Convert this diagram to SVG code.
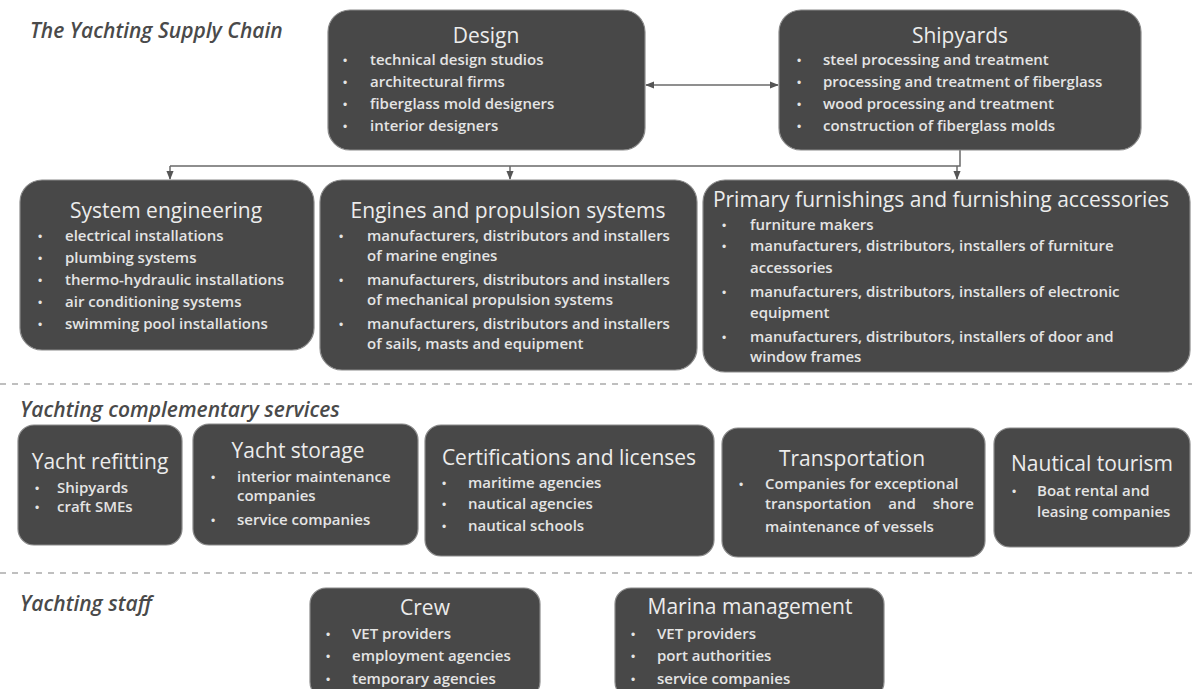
<svg xmlns="http://www.w3.org/2000/svg" width="1192" height="689" viewBox="0 0 1192 689">
<defs>
<style>
.box{fill:#484848;stroke:#8a8a8a;stroke-width:1.2}
.t{font-family:"Open Sans","Liberation Sans",sans-serif;fill:#ececec;text-anchor:middle;font-size:21px}
.i{font-family:"Open Sans","Liberation Sans",sans-serif;fill:#e4e4e4;font-size:15px;font-weight:600}
.b{font-family:"Liberation Sans",sans-serif;fill:#e4e4e4;font-size:12px}
.sec{font-family:"Open Sans","Liberation Sans",sans-serif;font-style:italic;font-weight:600;fill:#4a4a4a;font-size:21px}
.con{fill:none;stroke:#6a6a6a;stroke-width:1.5}
.dash{stroke:#aaaaaa;stroke-width:1.5;stroke-dasharray:6 6}
</style>
<marker id="ah" viewBox="0 0 10 10" refX="9" refY="5" markerWidth="6" markerHeight="6" orient="auto-start-reverse"><path d="M0,1 L10,5 L0,9 z" fill="#555"/></marker>
</defs>
<rect width="1192" height="689" fill="#ffffff"/>

<text class="sec" x="30" y="38">The Yachting Supply Chain</text>
<text class="sec" x="20" y="417">Yachting complementary services</text>
<text class="sec" x="20" y="611">Yachting staff</text>

<line class="dash" x1="0" y1="384" x2="1192" y2="384"/>
<line class="dash" x1="0" y1="573" x2="1192" y2="573"/>

<g id="connectors">
<line class="con" x1="646" y1="85" x2="778" y2="85" marker-start="url(#ah)" marker-end="url(#ah)"/>
<path class="con" d="M960,150 V166 H170"/>
<line class="con" x1="170" y1="166" x2="170" y2="179" marker-end="url(#ah)"/>
<line class="con" x1="510" y1="166" x2="510" y2="179" marker-end="url(#ah)"/>
<line class="con" x1="957" y1="166" x2="957" y2="179" marker-end="url(#ah)"/>
</g>

<g id="design">
<rect class="box" x="328" y="10" width="317" height="140" rx="22"/>
<text class="t" x="486" y="43">Design</text>
<text class="b" x="343" y="65">•</text><text class="i" x="370" y="65">technical design studios</text>
<text class="b" x="343" y="87">•</text><text class="i" x="370" y="87">architectural firms</text>
<text class="b" x="343" y="109">•</text><text class="i" x="370" y="109">fiberglass mold designers</text>
<text class="b" x="343" y="131">•</text><text class="i" x="370" y="131">interior designers</text>
</g>

<g id="shipyards">
<rect class="box" x="779" y="10" width="362" height="140" rx="22"/>
<text class="t" x="960" y="43">Shipyards</text>
<text class="b" x="797" y="65">•</text><text class="i" x="823" y="65">steel processing and treatment</text>
<text class="b" x="797" y="87">•</text><text class="i" x="823" y="87">processing and treatment of fiberglass</text>
<text class="b" x="797" y="109">•</text><text class="i" x="823" y="109">wood processing and treatment</text>
<text class="b" x="797" y="131">•</text><text class="i" x="823" y="131">construction of fiberglass molds</text>
</g>

<g id="system-engineering">
<rect class="box" x="20" y="180" width="294" height="170" rx="22"/>
<text class="t" x="166" y="218">System engineering</text>
<text class="b" x="38" y="241">•</text><text class="i" x="65" y="241">electrical installations</text>
<text class="b" x="38" y="263">•</text><text class="i" x="65" y="263">plumbing systems</text>
<text class="b" x="38" y="285">•</text><text class="i" x="65" y="285">thermo-hydraulic installations</text>
<text class="b" x="38" y="307">•</text><text class="i" x="65" y="307">air conditioning systems</text>
<text class="b" x="38" y="329">•</text><text class="i" x="65" y="329">swimming pool installations</text>
</g>

<g id="engines">
<rect class="box" x="320" y="180" width="377" height="190" rx="22"/>
<text class="t" x="508" y="218">Engines and propulsion systems</text>
<text class="b" x="339" y="241">•</text><text class="i" x="367" y="241">manufacturers, distributors and installers</text>
<text class="i" x="367" y="261">of marine engines</text>
<text class="b" x="339" y="285">•</text><text class="i" x="367" y="285">manufacturers, distributors and installers</text>
<text class="i" x="367" y="305">of mechanical propulsion systems</text>
<text class="b" x="339" y="329">•</text><text class="i" x="367" y="329">manufacturers, distributors and installers</text>
<text class="i" x="367" y="349">of sails, masts and equipment</text>
</g>

<g id="furnishings">
<rect class="box" x="703" y="180" width="487" height="192" rx="22"/>
<text class="t" x="941" y="207">Primary furnishings and furnishing accessories</text>
<text class="b" x="722" y="230">•</text><text class="i" x="750" y="230">furniture makers</text>
<text class="b" x="722" y="251">•</text><text class="i" x="750" y="251">manufacturers, distributors, installers of furniture</text>
<text class="i" x="750" y="273">accessories</text>
<text class="b" x="722" y="297">•</text><text class="i" x="750" y="297">manufacturers, distributors, installers of electronic</text>
<text class="i" x="750" y="318">equipment</text>
<text class="b" x="722" y="342">•</text><text class="i" x="750" y="342">manufacturers, distributors, installers of door and</text>
<text class="i" x="750" y="362">window frames</text>
</g>

<g id="yacht-refitting">
<rect class="box" x="18" y="425" width="164" height="120" rx="16"/>
<text class="t" x="100" y="469">Yacht refitting</text>
<text class="b" x="35" y="493">•</text><text class="i" x="57" y="493">Shipyards</text>
<text class="b" x="35" y="512">•</text><text class="i" x="57" y="512">craft SMEs</text>
</g>

<g id="yacht-storage">
<rect class="box" x="193" y="424" width="225" height="121" rx="16"/>
<text class="t" x="298" y="458">Yacht storage</text>
<text class="b" x="211" y="482">•</text><text class="i" x="237" y="482">interior maintenance</text>
<text class="i" x="237" y="501">companies</text>
<text class="b" x="211" y="525">•</text><text class="i" x="237" y="525">service companies</text>
</g>

<g id="certifications">
<rect class="box" x="425" y="425" width="289" height="131" rx="16"/>
<text class="t" x="569" y="465">Certifications and licenses</text>
<text class="b" x="442" y="488">•</text><text class="i" x="468" y="488">maritime agencies</text>
<text class="b" x="442" y="509">•</text><text class="i" x="468" y="509">nautical agencies</text>
<text class="b" x="442" y="531">•</text><text class="i" x="468" y="531">nautical schools</text>
</g>

<g id="transportation">
<rect class="box" x="722" y="428" width="263" height="129" rx="16"/>
<text class="t" x="852" y="466">Transportation</text>
<text class="b" x="739" y="489">•</text><text class="i" x="765" y="489">Companies for exceptional</text>
<text class="i" x="765" y="509" word-spacing="13">transportation and shore</text>
<text class="i" x="765" y="532">maintenance of vessels</text>
</g>

<g id="nautical-tourism">
<rect class="box" x="994" y="428" width="196" height="119" rx="16"/>
<text class="t" x="1092" y="471">Nautical tourism</text>
<text class="b" x="1012" y="496">•</text><text class="i" x="1037" y="496">Boat rental and</text>
<text class="i" x="1037" y="517">leasing companies</text>
</g>

<g id="crew">
<rect class="box" x="310" y="588" width="230" height="110" rx="16"/>
<text class="t" x="425" y="615">Crew</text>
<text class="b" x="326" y="639">•</text><text class="i" x="352" y="639">VET providers</text>
<text class="b" x="326" y="661">•</text><text class="i" x="352" y="661">employment agencies</text>
<text class="b" x="326" y="684">•</text><text class="i" x="352" y="684">temporary agencies</text>
</g>

<g id="marina-management">
<rect class="box" x="615" y="588" width="269" height="110" rx="16"/>
<text class="t" x="750" y="614">Marina management</text>
<text class="b" x="631" y="639">•</text><text class="i" x="657" y="639">VET providers</text>
<text class="b" x="631" y="661">•</text><text class="i" x="657" y="661">port authorities</text>
<text class="b" x="631" y="684">•</text><text class="i" x="657" y="684">service companies</text>
</g>
</svg>
